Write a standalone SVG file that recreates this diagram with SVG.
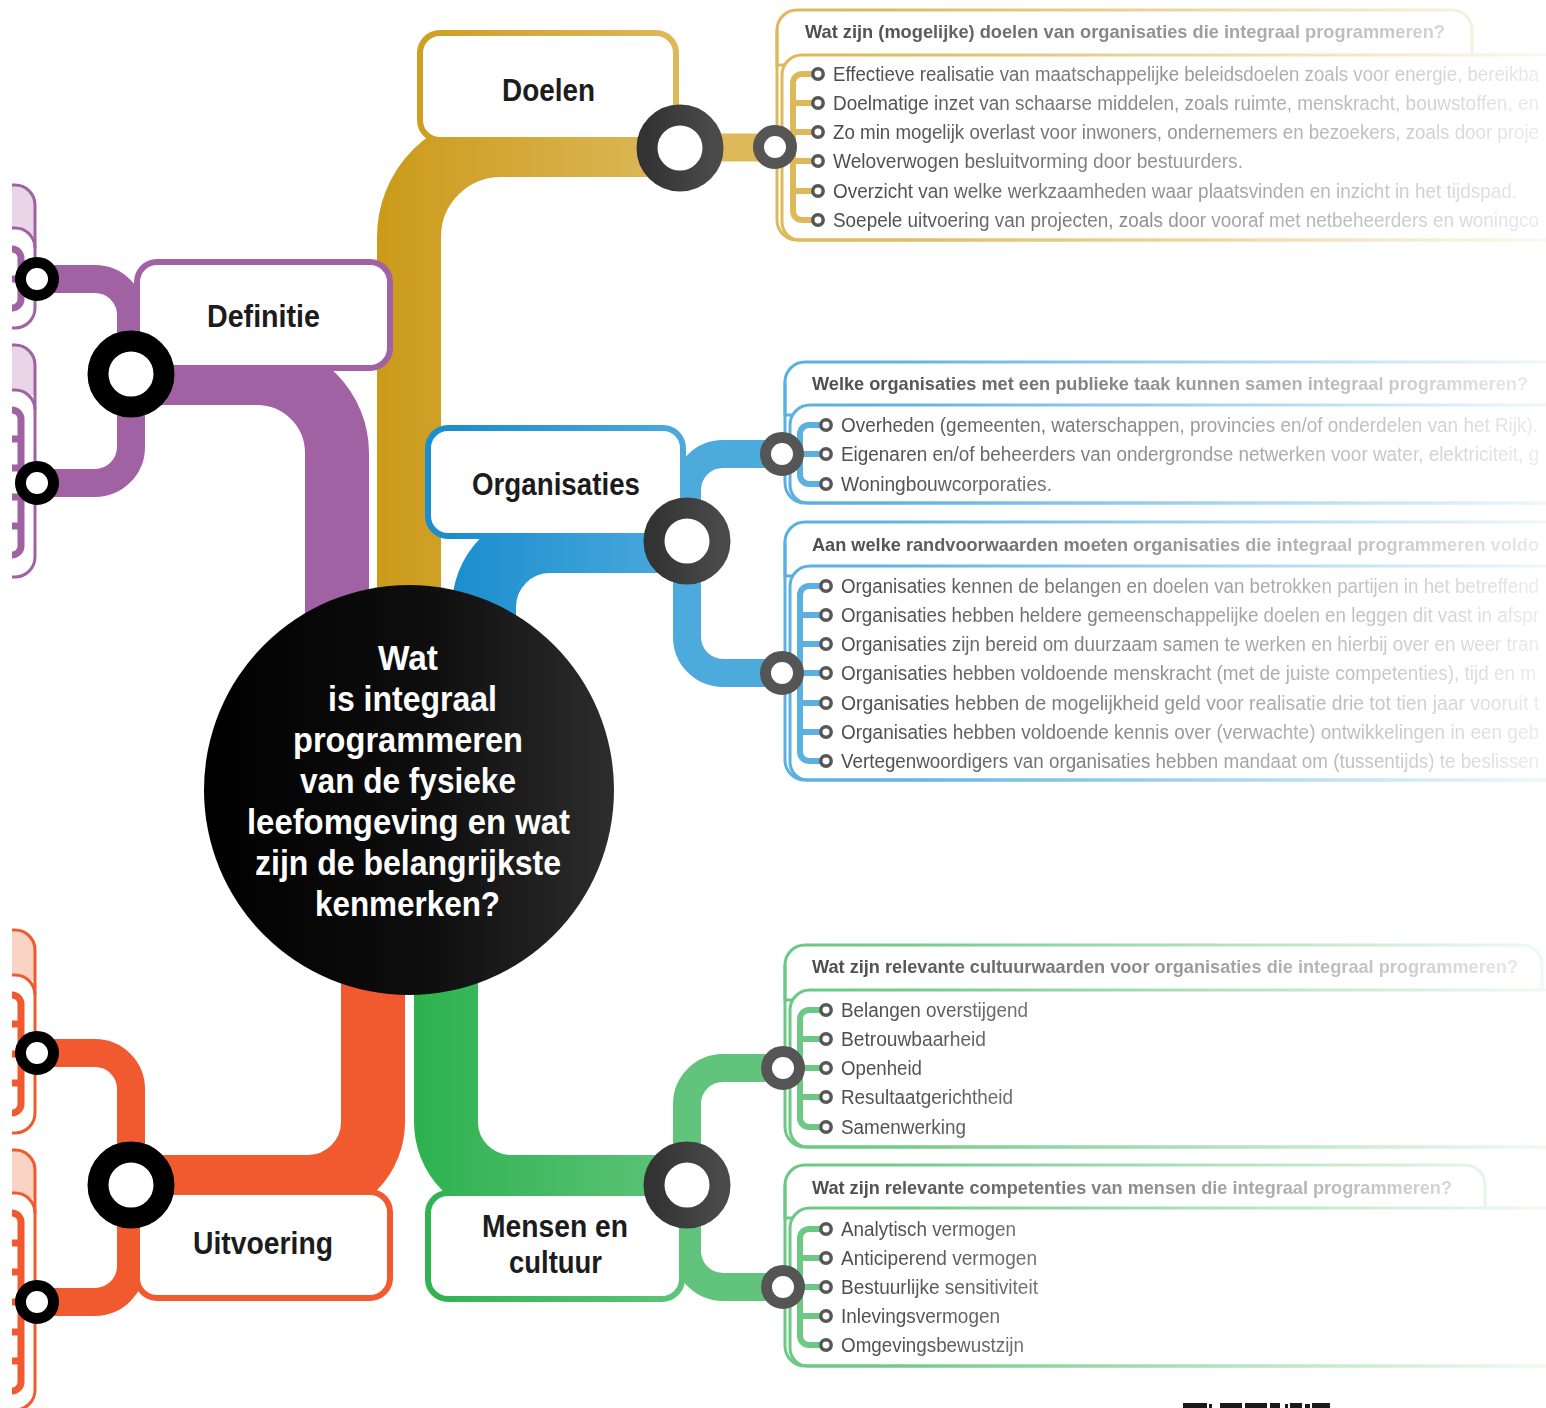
<svg xmlns="http://www.w3.org/2000/svg" width="1546" height="1408" viewBox="0 0 1546 1408">
<defs>
<style>
.lbl{font-family:'Liberation Sans Narrow','Liberation Sans',Arial,sans-serif;font-weight:700;font-size:32px;fill:#1c1c1c}
.ctr{font-family:'Liberation Sans Narrow','Liberation Sans',Arial,sans-serif;font-weight:700;font-size:35px;fill:#fff}
.hdr{font-family:'Liberation Sans Narrow','Liberation Sans',Arial,sans-serif;font-weight:700;font-size:19px;fill:#4d4d4d}
.itm{font-family:'Liberation Sans Narrow','Liberation Sans',Arial,sans-serif;font-size:20px;fill:#4a4a4a}
.bul{fill:#fff;stroke:#555;stroke-width:3.5}
.rs{fill:#fff;stroke:#555;stroke-width:11}
.rsk{fill:#fff;stroke:#000;stroke-width:11}
.rb{fill:#fff;stroke:url(#gRing);stroke-width:21}
.rbk{fill:#fff;stroke:#000;stroke-width:21}
.thick{fill:none;stroke-width:64}
.thin{fill:none;stroke-width:28}
.box{fill:#fff;stroke-width:6}
.pl{fill:none;stroke-width:3}
.lst{fill:none;stroke-width:6}
.lstL{fill:none;stroke-width:7}
.gold{stroke:#DDB95A}.blue{stroke:#5AB0E0}.green{stroke:#6CC884}.purple{stroke:#A062A2}.orange{stroke:#F15A2E}
</style>
<linearGradient id="gGold" gradientUnits="userSpaceOnUse" x1="377" y1="0" x2="680" y2="0"><stop offset="0" stop-color="#CB9A19"/><stop offset="1" stop-color="#DDB95C"/></linearGradient>
<linearGradient id="gBlue" gradientUnits="userSpaceOnUse" x1="452" y1="0" x2="687" y2="0"><stop offset="0" stop-color="#1B8ECF"/><stop offset="1" stop-color="#4DAADC"/></linearGradient>
<linearGradient id="gGreen" gradientUnits="userSpaceOnUse" x1="414" y1="0" x2="687" y2="0"><stop offset="0" stop-color="#2DB24F"/><stop offset="1" stop-color="#5FC47A"/></linearGradient>
<linearGradient id="gCenter" x1="0" y1="0" x2="1" y2="0"><stop offset="0" stop-color="#000"/><stop offset="0.55" stop-color="#0e0e0e"/><stop offset="1" stop-color="#2d2d2d"/></linearGradient>
<linearGradient id="gRing" x1="0" y1="0" x2="1" y2="0"><stop offset="0" stop-color="#333"/><stop offset="1" stop-color="#4a4a4a"/></linearGradient>
<linearGradient id="gFade" gradientUnits="userSpaceOnUse" x1="800" y1="0" x2="1546" y2="0"><stop offset="0" stop-color="#fff" stop-opacity="1"/><stop offset="0.134" stop-color="#fff" stop-opacity="0.95"/><stop offset="1" stop-color="#fff" stop-opacity="0.1"/></linearGradient>
<mask id="fade" maskUnits="userSpaceOnUse" x="0" y="0" width="1546" height="1408"><rect x="0" y="0" width="1546" height="1408" fill="url(#gFade)"/></mask>
<clipPath id="leftClip"><rect x="12" y="0" width="60" height="1408"/></clipPath>
</defs>
<rect width="1546" height="1408" fill="#fff"/>

<!-- left cut-off boxes -->
<g id="left-boxes" clip-path="url(#leftClip)">
 <g id="box-def-1">
  <path d="M-10,185 H15 A20,20 0 0 1 35,205 V235 H-10 Z" fill="#E8D6E8"/>
  <path d="M-10,228 H15 A20,20 0 0 1 35,248 V328 H-10 Z" fill="#fff"/>
  <path class="pl purple" d="M-10,228 H15 A20,20 0 0 1 35,248"/>
  <path class="pl purple" d="M-10,185 H15 A20,20 0 0 1 35,205 V308 A20,20 0 0 1 15,328 H-10"/>
  <path class="lstL purple" d="M-10,249 H12 A9,9 0 0 1 21,258 V299 A9,9 0 0 1 12,308 H-10 M-10,279 H21"/>
 </g>
 <g id="box-def-2">
  <path d="M-10,345 H15 A20,20 0 0 1 35,365 V395 H-10 Z" fill="#E8D6E8"/>
  <path d="M-10,390 H15 A20,20 0 0 1 35,410 V577 H-10 Z" fill="#fff"/>
  <path class="pl purple" d="M-10,390 H15 A20,20 0 0 1 35,410"/>
  <path class="pl purple" d="M-10,345 H15 A20,20 0 0 1 35,365 V557 A20,20 0 0 1 15,577 H-10"/>
  <path class="lstL purple" d="M-10,410 H12 A9,9 0 0 1 21,419 V546 A9,9 0 0 1 12,555 H-10 M-10,439 H21 M-10,468 H21 M-10,497 H21 M-10,526 H21"/>
 </g>
 <g id="box-uit-1">
  <path d="M-10,930 H15 A20,20 0 0 1 35,950 V980 H-10 Z" fill="#FBD3C4"/>
  <path d="M-10,975 H15 A20,20 0 0 1 35,995 V1133 H-10 Z" fill="#fff"/>
  <path class="pl orange" d="M-10,975 H15 A20,20 0 0 1 35,995"/>
  <path class="pl orange" d="M-10,930 H15 A20,20 0 0 1 35,950 V1113 A20,20 0 0 1 15,1133 H-10"/>
  <path class="lstL orange" d="M-10,995 H12 A9,9 0 0 1 21,1004 V1104 A9,9 0 0 1 12,1113 H-10 M-10,1024 H21 M-10,1054 H21 M-10,1083 H21"/>
 </g>
 <g id="box-uit-2">
  <path d="M-10,1150 H15 A20,20 0 0 1 35,1170 V1198 H-10 Z" fill="#FBD3C4"/>
  <path d="M-10,1193 H15 A20,20 0 0 1 35,1213 V1412 H-10 Z" fill="#fff"/>
  <path class="pl orange" d="M-10,1193 H15 A20,20 0 0 1 35,1213"/>
  <path class="pl orange" d="M-10,1150 H15 A20,20 0 0 1 35,1170 V1390 A20,20 0 0 1 15,1410 H-10"/>
  <path class="lstL orange" d="M-10,1213 H12 A9,9 0 0 1 21,1222 V1382 A9,9 0 0 1 12,1391 H-10 M-10,1243 H21 M-10,1272 H21 M-10,1302 H21 M-10,1332 H21 M-10,1361 H21"/>
 </g>
</g>

<!-- right panels -->
<g id="panels" mask="url(#fade)">
 <g id="panel-doelen">
  <path d="M777,30 A20,20 0 0 1 797,10 H1452 A20,20 0 0 1 1472,30 V65 H777 Z" fill="#F8EDD6" class="pl gold"/>
  <path d="M1600,55 H802 A20,20 0 0 0 782,75 V222 A18,18 0 0 0 800,240 H1600 Z" fill="#fff" stroke="#DDB95A" stroke-width="3"/>
  <path class="pl gold" d="M777,30 V220 A20,20 0 0 0 797,240 H1600"/>
  <text class="hdr" x="805" y="38" textLength="640" lengthAdjust="spacingAndGlyphs">Wat zijn (mogelijke) doelen van organisaties die integraal programmeren?</text>
  <path class="lst gold" d="M818,74 H802 A9,9 0 0 0 793,83 V211 A9,9 0 0 0 802,220 H818 M793,103 H818 M793,132 H818 M793,161 H818 M793,191 H818 M775,147 H793"/>
  <circle class="bul" cx="818" cy="74" r="5.2"/><circle class="bul" cx="818" cy="103" r="5.2"/><circle class="bul" cx="818" cy="132" r="5.2"/><circle class="bul" cx="818" cy="161" r="5.2"/><circle class="bul" cx="818" cy="191" r="5.2"/><circle class="bul" cx="818" cy="220" r="5.2"/>
  <text class="itm" x="833" y="81" textLength="706" lengthAdjust="spacingAndGlyphs">Effectieve realisatie van maatschappelijke beleidsdoelen zoals voor energie, bereikba</text>
  <text class="itm" x="833" y="110" textLength="706" lengthAdjust="spacingAndGlyphs">Doelmatige inzet van schaarse middelen, zoals ruimte, menskracht, bouwstoffen, en</text>
  <text class="itm" x="833" y="139" textLength="706" lengthAdjust="spacingAndGlyphs">Zo min mogelijk overlast voor inwoners, ondernemers en bezoekers, zoals door proje</text>
  <text class="itm" x="833" y="168" textLength="410" lengthAdjust="spacingAndGlyphs">Weloverwogen besluitvorming door bestuurders.</text>
  <text class="itm" x="833" y="198" textLength="684" lengthAdjust="spacingAndGlyphs">Overzicht van welke werkzaamheden waar plaatsvinden en inzicht in het tijdspad.</text>
  <text class="itm" x="833" y="227" textLength="706" lengthAdjust="spacingAndGlyphs">Soepele uitvoering van projecten, zoals door vooraf met netbeheerders en woningco</text>
 </g>
 <g id="panel-org-1">
  <path d="M785,382 A20,20 0 0 1 805,362 H1600 V415 H785 Z" fill="#D6E6F6" class="pl blue"/>
  <path d="M1600,405 H810 A20,20 0 0 0 790,425 V485 A18,18 0 0 0 808,503 H1600 Z" fill="#fff" stroke="#5AB0E0" stroke-width="3"/>
  <path class="pl blue" d="M785,382 V483 A20,20 0 0 0 805,503 H1600"/>
  <text class="hdr" x="812" y="390" textLength="716" lengthAdjust="spacingAndGlyphs">Welke organisaties met een publieke taak kunnen samen integraal programmeren?</text>
  <path class="lst blue" d="M826,425 H809 A9,9 0 0 0 800,434 V475 A9,9 0 0 0 809,484 H826 M782,454 H826"/>
  <circle class="bul" cx="826" cy="425" r="5.2"/><circle class="bul" cx="826" cy="454" r="5.2"/><circle class="bul" cx="826" cy="484" r="5.2"/>
  <text class="itm" x="841" y="432" textLength="697" lengthAdjust="spacingAndGlyphs">Overheden (gemeenten, waterschappen, provincies en/of onderdelen van het Rijk).</text>
  <text class="itm" x="841" y="461" textLength="698" lengthAdjust="spacingAndGlyphs">Eigenaren en/of beheerders van ondergrondse netwerken voor water, elektriciteit, g</text>
  <text class="itm" x="841" y="491" textLength="211" lengthAdjust="spacingAndGlyphs">Woningbouwcorporaties.</text>
 </g>
 <g id="panel-org-2">
  <path d="M785,542 A20,20 0 0 1 805,522 H1600 V576 H785 Z" fill="#D6E6F6" class="pl blue"/>
  <path d="M1600,566 H810 A20,20 0 0 0 790,586 V762 A18,18 0 0 0 808,780 H1600 Z" fill="#fff" stroke="#5AB0E0" stroke-width="3"/>
  <path class="pl blue" d="M785,542 V760 A20,20 0 0 0 805,780 H1600"/>
  <text class="hdr" x="812" y="551" textLength="727" lengthAdjust="spacingAndGlyphs">Aan welke randvoorwaarden moeten organisaties die integraal programmeren voldo</text>
  <path class="lst blue" d="M826,586 H809 A9,9 0 0 0 800,595 V752 A9,9 0 0 0 809,761 H826 M800,615 H826 M800,644 H826 M782,673 H826 M800,703 H826 M800,732 H826"/>
  <circle class="bul" cx="826" cy="586" r="5.2"/><circle class="bul" cx="826" cy="615" r="5.2"/><circle class="bul" cx="826" cy="644" r="5.2"/><circle class="bul" cx="826" cy="673" r="5.2"/><circle class="bul" cx="826" cy="703" r="5.2"/><circle class="bul" cx="826" cy="732" r="5.2"/><circle class="bul" cx="826" cy="761" r="5.2"/>
  <text class="itm" x="841" y="593" textLength="698" lengthAdjust="spacingAndGlyphs">Organisaties kennen de belangen en doelen van betrokken partijen in het betreffend</text>
  <text class="itm" x="841" y="622" textLength="698" lengthAdjust="spacingAndGlyphs">Organisaties hebben heldere gemeenschappelijke doelen en leggen dit vast in afspr</text>
  <text class="itm" x="841" y="651" textLength="698" lengthAdjust="spacingAndGlyphs">Organisaties zijn bereid om duurzaam samen te werken en hierbij over en weer tran</text>
  <text class="itm" x="841" y="680" textLength="695" lengthAdjust="spacingAndGlyphs">Organisaties hebben voldoende menskracht (met de juiste competenties), tijd en m</text>
  <text class="itm" x="841" y="710" textLength="698" lengthAdjust="spacingAndGlyphs">Organisaties hebben de mogelijkheid geld voor realisatie drie tot tien jaar vooruit t</text>
  <text class="itm" x="841" y="739" textLength="698" lengthAdjust="spacingAndGlyphs">Organisaties hebben voldoende kennis over (verwachte) ontwikkelingen in een geb</text>
  <text class="itm" x="841" y="768" textLength="698" lengthAdjust="spacingAndGlyphs">Vertegenwoordigers van organisaties hebben mandaat om (tussentijds) te beslissen</text>
 </g>
 <g id="panel-men-1">
  <path d="M785,965 A20,20 0 0 1 805,945 H1522 A20,20 0 0 1 1542,965 V1000 H785 Z" fill="#E5F3E5" class="pl green"/>
  <path d="M1600,990 H810 A20,20 0 0 0 790,1010 V1129 A18,18 0 0 0 808,1147 H1600 Z" fill="#fff" stroke="#6CC884" stroke-width="3"/>
  <path class="pl green" d="M785,965 V1127 A20,20 0 0 0 805,1147 H1600"/>
  <text class="hdr" x="812" y="973" textLength="706" lengthAdjust="spacingAndGlyphs">Wat zijn relevante cultuurwaarden voor organisaties die integraal programmeren?</text>
  <path class="lst green" d="M826,1010 H809 A9,9 0 0 0 800,1019 V1118 A9,9 0 0 0 809,1127 H826 M800,1039 H826 M783,1068 H826 M800,1097 H826"/>
  <circle class="bul" cx="826" cy="1010" r="5.2"/><circle class="bul" cx="826" cy="1039" r="5.2"/><circle class="bul" cx="826" cy="1068" r="5.2"/><circle class="bul" cx="826" cy="1097" r="5.2"/><circle class="bul" cx="826" cy="1127" r="5.2"/>
  <text class="itm" x="841" y="1017" textLength="187" lengthAdjust="spacingAndGlyphs">Belangen overstijgend</text>
  <text class="itm" x="841" y="1046" textLength="145" lengthAdjust="spacingAndGlyphs">Betrouwbaarheid</text>
  <text class="itm" x="841" y="1075" textLength="81" lengthAdjust="spacingAndGlyphs">Openheid</text>
  <text class="itm" x="841" y="1104" textLength="172" lengthAdjust="spacingAndGlyphs">Resultaatgerichtheid</text>
  <text class="itm" x="841" y="1134" textLength="125" lengthAdjust="spacingAndGlyphs">Samenwerking</text>
 </g>
 <g id="panel-men-2">
  <path d="M785,1185 A20,20 0 0 1 805,1165 H1465 A20,20 0 0 1 1485,1185 V1218 H785 Z" fill="#E5F3E5" class="pl green"/>
  <path d="M1600,1208 H810 A20,20 0 0 0 790,1228 V1348 A18,18 0 0 0 808,1366 H1600 Z" fill="#fff" stroke="#6CC884" stroke-width="3"/>
  <path class="pl green" d="M785,1185 V1346 A20,20 0 0 0 805,1366 H1600"/>
  <text class="hdr" x="812" y="1194" textLength="640" lengthAdjust="spacingAndGlyphs">Wat zijn relevante competenties van mensen die integraal programmeren?</text>
  <path class="lst green" d="M826,1229 H809 A9,9 0 0 0 800,1238 V1336 A9,9 0 0 0 809,1345 H826 M800,1258 H826 M783,1287 H826 M800,1316 H826"/>
  <circle class="bul" cx="826" cy="1229" r="5.2"/><circle class="bul" cx="826" cy="1258" r="5.2"/><circle class="bul" cx="826" cy="1287" r="5.2"/><circle class="bul" cx="826" cy="1316" r="5.2"/><circle class="bul" cx="826" cy="1345" r="5.2"/>
  <text class="itm" x="841" y="1236" textLength="175" lengthAdjust="spacingAndGlyphs">Analytisch vermogen</text>
  <text class="itm" x="841" y="1265" textLength="196" lengthAdjust="spacingAndGlyphs">Anticiperend vermogen</text>
  <text class="itm" x="841" y="1294" textLength="197" lengthAdjust="spacingAndGlyphs">Bestuurlijke sensitiviteit</text>
  <text class="itm" x="841" y="1323" textLength="159" lengthAdjust="spacingAndGlyphs">Inlevingsvermogen</text>
  <text class="itm" x="841" y="1352" textLength="183" lengthAdjust="spacingAndGlyphs">Omgevingsbewustzijn</text>
 </g>
</g>

<!-- connectors -->
<g id="connectors">
 <path class="thick" stroke="url(#gGold)" d="M409,620 V237 A92,92 0 0 1 501,145 H680"/>
 <path class="thick" stroke="#A062A2" d="M337,620 V453 A80,80 0 0 0 257,373 H131"/>
 <path class="thick" stroke="url(#gBlue)" d="M484,700 V607 A66,66 0 0 1 550,541 H687"/>
 <path class="thick" stroke="#F15A2E" d="M373,960 V1122 A65,65 0 0 1 308,1187 H131"/>
 <path class="thick" stroke="url(#gGreen)" d="M446,960 V1122 A65,65 0 0 0 511,1187 H687"/>
 <path class="thin" stroke="#DDB95A" d="M680,147.5 H775"/>
 <path class="thin" stroke="#4DAADC" d="M687,541 V490 A36,36 0 0 1 723,454 H782 M687,541 V637 A36,36 0 0 0 723,673 H782"/>
 <path class="thin" stroke="#62C47C" d="M687,1185 V1104 A36,36 0 0 1 723,1068 H783 M687,1185 V1251 A36,36 0 0 0 723,1287 H783"/>
 <path class="thin" stroke="#A062A2" d="M131,374 V315 A36,36 0 0 0 95,279 H37 M131,374 V447 A36,36 0 0 1 95,483 H37"/>
 <path class="thin" stroke="#F15A2E" d="M131,1185 V1089 A36,36 0 0 0 95,1053 H37 M131,1185 V1266 A36,36 0 0 1 95,1302 H37"/>
</g>

<!-- center -->
<g id="node-center">
 <circle cx="409" cy="790" r="205" fill="url(#gCenter)"/>
 <text class="ctr" x="378" y="670" textLength="60" lengthAdjust="spacingAndGlyphs">Wat</text>
 <text class="ctr" x="328" y="711" textLength="169" lengthAdjust="spacingAndGlyphs">is integraal</text>
 <text class="ctr" x="293" y="752" textLength="230" lengthAdjust="spacingAndGlyphs">programmeren</text>
 <text class="ctr" x="300" y="793" textLength="216" lengthAdjust="spacingAndGlyphs">van de fysieke</text>
 <text class="ctr" x="247" y="834" textLength="323" lengthAdjust="spacingAndGlyphs">leefomgeving en wat</text>
 <text class="ctr" x="255" y="875" textLength="306" lengthAdjust="spacingAndGlyphs">zijn de belangrijkste</text>
 <text class="ctr" x="315" y="916" textLength="185" lengthAdjust="spacingAndGlyphs">kenmerken?</text>
</g>

<!-- label nodes -->
<g id="node-doelen">
 <rect class="box" x="420" y="33" width="256" height="107" rx="20" stroke="url(#gGold)"/>
 <text class="lbl" x="502" y="101" textLength="93" lengthAdjust="spacingAndGlyphs">Doelen</text>
</g>
<g id="node-definitie">
 <rect class="box" x="137" y="262" width="253" height="106" rx="20" stroke="#A062A2"/>
 <text class="lbl" x="207" y="327" textLength="113" lengthAdjust="spacingAndGlyphs">Definitie</text>
</g>
<g id="node-organisaties">
 <rect class="box" x="428" y="428" width="255" height="108" rx="20" stroke="url(#gBlue)"/>
 <text class="lbl" x="472" y="495" textLength="168" lengthAdjust="spacingAndGlyphs">Organisaties</text>
</g>
<g id="node-uitvoering">
 <rect class="box" x="137" y="1192" width="253" height="106" rx="20" stroke="#F15A2E"/>
 <text class="lbl" x="193" y="1254" textLength="140" lengthAdjust="spacingAndGlyphs">Uitvoering</text>
</g>
<g id="node-mensen">
 <rect class="box" x="428" y="1193" width="254" height="106" rx="20" stroke="url(#gGreen)"/>
 <text class="lbl" x="482" y="1237" textLength="146" lengthAdjust="spacingAndGlyphs">Mensen en</text>
 <text class="lbl" x="509" y="1273" textLength="93" lengthAdjust="spacingAndGlyphs">cultuur</text>
</g>

<!-- junction rings -->
<g id="rings">
 <circle class="rb" cx="680" cy="148" r="33"/>
 <circle class="rb" cx="687" cy="541" r="33"/>
 <circle class="rb" cx="687" cy="1185" r="33"/>
 <circle class="rbk" cx="131" cy="374" r="33"/>
 <circle class="rbk" cx="131" cy="1185" r="33"/>
 <circle class="rs" cx="775" cy="147" r="16.5"/>
 <circle class="rs" cx="782" cy="454" r="16.5"/>
 <circle class="rs" cx="782" cy="673" r="16.5"/>
 <circle class="rs" cx="783" cy="1068" r="16.5"/>
 <circle class="rs" cx="783" cy="1287" r="16.5"/>
 <circle class="rsk" cx="37" cy="279" r="16.5"/>
 <circle class="rsk" cx="37" cy="483" r="16.5"/>
 <circle class="rsk" cx="37" cy="1053" r="16.5"/>
 <circle class="rsk" cx="37" cy="1302" r="16.5"/>
</g>

<g id="bottom-fragment" fill="#1a1a1a">
 <rect x="1183" y="1403" width="24" height="5"/><rect x="1209" y="1404" width="3" height="4"/><rect x="1220" y="1403" width="22" height="5"/><rect x="1245" y="1403" width="22" height="5"/><rect x="1270" y="1403" width="10" height="5"/><rect x="1285" y="1404" width="3" height="4"/><rect x="1290" y="1403" width="12" height="5"/><rect x="1305" y="1404" width="5" height="4"/><rect x="1312" y="1403" width="18" height="5"/>
</g>
</svg>
